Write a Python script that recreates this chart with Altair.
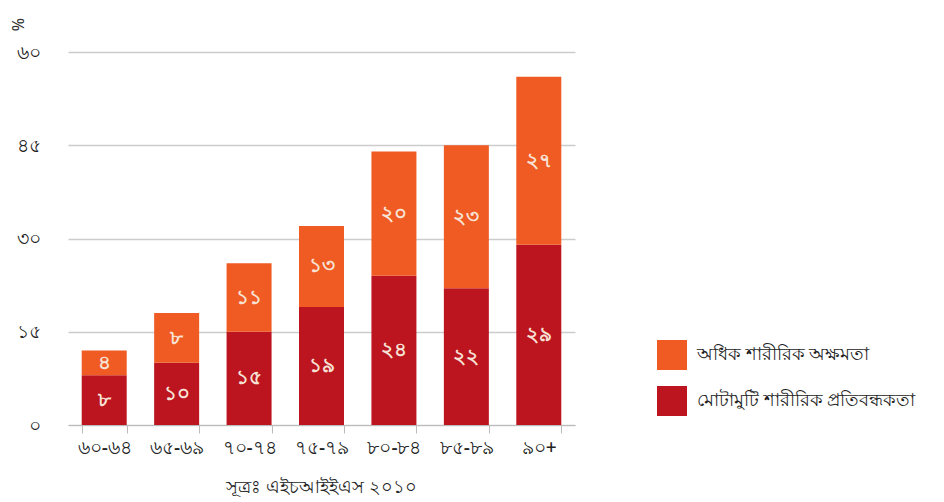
import altair as alt
import pandas as pd

categories = ["৬০-৬৪", "৬৫-৬৯", "৭০-৭৪", "৭৫-৭৯", "৮০-৮৪", "৮৫-৮৯", "৯০+"]
moderate = [8, 10, 15, 19, 24, 22, 29]
moderate_lbl = ["৮", "১০", "১৫", "১৯", "২৪", "২২", "২৯"]
severe = [4, 8, 11, 13, 20, 23, 27]
severe_lbl = ["৪", "৮", "১১", "১৩", "২০", "২৩", "২৭"]
series_names = ["অধিক শারীরিক অক্ষমতা", "মোটামুটি শারীরিক প্রতিবন্ধকতা"]
series_colors = ["#EF5B23", "#BD1520"]
y_ticks = [0, 15, 30, 45, 60]
y_tick_labels = ["০", "১৫", "৩০", "৪৫", "৬০"]
source_text = "সূত্রঃ এইচআইইএস ২০১০"
unit_text = "%"

rows = []
for i, c in enumerate(categories):
    rows.append({"cat": c, "series": series_names[1], "value": moderate[i], "lbl": moderate_lbl[i], "ord": 0})
    rows.append({"cat": c, "series": series_names[0], "value": severe[i], "lbl": severe_lbl[i], "ord": 1})
df = pd.DataFrame(rows)

FONT = "Noto Sans"

label_expr = " : ".join(
    [f"datum.value == {v} ? '{l}'" for v, l in zip(y_ticks, y_tick_labels)]
) + " : ''"

base = alt.Chart(df)

bars = base.mark_bar(size=45).encode(
    x=alt.X("cat:N", sort=categories, title=None,
            axis=alt.Axis(labelAngle=0, labelFontSize=19, labelColor="#222222",
                          labelFont=FONT, labelFontWeight=500,
                          domainColor="#bbbbbb", tickColor="#bbbbbb",
                          tickBand="extent", tickSize=8, labelPadding=5, grid=False)),
    y=alt.Y("value:Q", stack="zero", title=unit_text,
            scale=alt.Scale(domain=[0, 60], nice=False),
            axis=alt.Axis(values=y_ticks, labelExpr=label_expr, labelFontSize=19,
                          labelColor="#222222", labelFont=FONT, labelFontWeight=500,
                          domain=False, ticks=False,
                          labelPadding=28, gridColor="#cccccc", gridWidth=1.5,
                          titleAngle=270, titleX=-42, titleY=-28, titleFontSize=16,
                          titleFontWeight="normal", titleColor="#333333", titleFont=FONT)),
    color=alt.Color("series:N", scale=alt.Scale(domain=series_names, range=series_colors),
                    legend=alt.Legend(title=None, orient="none", legendX=589, legendY=288,
                                      symbolType="square", symbolSize=900,
                                      symbolStrokeWidth=0, symbolOpacity=1,
                                      labelFontSize=18, labelFont=FONT, labelColor="#222222",
                                      rowPadding=16, labelOffset=10, labelLimit=400)),
    order=alt.Order("ord:Q", sort="ascending"),
)

labels = base.transform_stack(
    stack="value", groupby=["cat"], as_=["y0", "y1"],
    sort=[alt.SortField("ord", order="ascending")]
).transform_calculate(mid="(datum.y0 + datum.y1) / 2").mark_text(
    fontSize=20, color="#F7E3D6", font=FONT, baseline="middle", fontWeight="bold"
).encode(
    x=alt.X("cat:N", sort=categories),
    y=alt.Y("mid:Q"),
    text="lbl:N",
)

chart = alt.layer(bars, labels).properties(
    width=507, height=373,
    autosize=alt.AutoSizeParams(type="none"),
    padding={"left": 60, "top": 44, "right": 355, "bottom": 76},
    title=alt.TitleParams(source_text, orient="bottom", anchor="middle", fontSize=18,
                          font=FONT, fontWeight="normal", color="#222222", offset=22),
).configure_view(stroke=None).configure_scale(bandPaddingInner=0.38, bandPaddingOuter=0.19)

chart.save("out.html", embed_options={"renderer": "svg", "actions": False})
